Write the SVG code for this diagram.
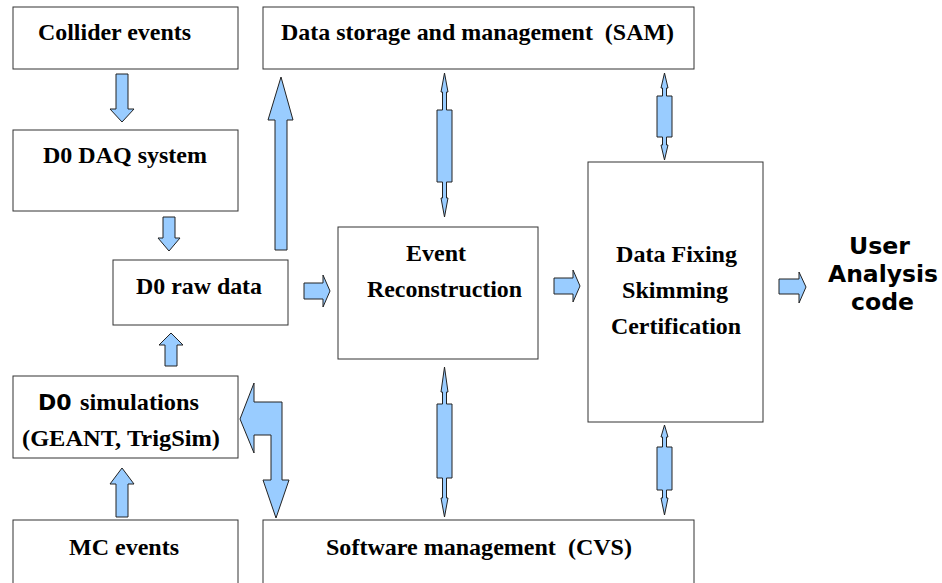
<svg xmlns="http://www.w3.org/2000/svg" width="942" height="583" viewBox="0 0 942 583">
<style>
.box{fill:#fff;stroke:#333;stroke-width:1}
.t{font-family:"Liberation Serif","Times New Roman",serif;font-weight:bold;font-size:24px;fill:#000;text-anchor:middle}
.s{font-family:"DejaVu Sans",sans-serif;font-weight:bold;font-size:23.5px;fill:#000;text-anchor:middle}
.a{fill:#99ccff;stroke:#222;stroke-width:1;stroke-linejoin:miter}
</style>
<rect width="942" height="583" fill="#fff"/>
<g id="collider"><rect class="box" x="13" y="7" width="225" height="62"/><text class="t" x="114.5" y="40" textLength="153" lengthAdjust="spacingAndGlyphs">Collider events</text></g>
<g id="sam"><rect class="box" x="263" y="7" width="431" height="62"/><text class="t" x="477.5" y="40" textLength="393" lengthAdjust="spacingAndGlyphs" xml:space="preserve">Data storage and management  (SAM)</text></g>
<g id="daq"><rect class="box" x="13" y="130" width="225" height="81"/><text class="t" x="125" y="163" textLength="164" lengthAdjust="spacingAndGlyphs">D0 DAQ system</text></g>
<g id="raw"><rect class="box" x="113" y="260" width="175" height="65"/><text class="t" x="199" y="294" textLength="126" lengthAdjust="spacingAndGlyphs">D0 raw data</text></g>
<g id="reco"><rect class="box" x="338" y="227" width="200" height="132"/><text class="t" x="436" y="261" textLength="60" lengthAdjust="spacingAndGlyphs">Event</text><text class="t" x="444.5" y="297" textLength="155" lengthAdjust="spacingAndGlyphs">Reconstruction</text></g>
<g id="fix"><rect class="box" x="588" y="162" width="175" height="260"/><text class="t" x="676.5" y="262" textLength="121" lengthAdjust="spacingAndGlyphs">Data Fixing</text><text class="t" x="675" y="298" textLength="106" lengthAdjust="spacingAndGlyphs">Skimming</text><text class="t" x="676" y="334" textLength="130" lengthAdjust="spacingAndGlyphs">Certification</text></g>
<g id="user"><text class="s" x="879.5" y="254" textLength="61" lengthAdjust="spacingAndGlyphs">User</text><text class="s" x="883" y="282" textLength="110" lengthAdjust="spacingAndGlyphs">Analysis</text><text class="s" x="882.5" y="310" textLength="63" lengthAdjust="spacingAndGlyphs">code</text></g>
<g id="sim"><rect class="box" x="13" y="376" width="225" height="82"/><text x="38" y="410" style="font-family:'DejaVu Sans',sans-serif;font-weight:bold;font-size:22px">D0</text><text x="139.5" y="410" class="t" textLength="119" lengthAdjust="spacingAndGlyphs">simulations</text><text class="t" x="121" y="446" textLength="198" lengthAdjust="spacingAndGlyphs">(GEANT, TrigSim)</text></g>
<g id="mc"><rect class="box" x="13" y="520" width="225" height="70"/><text class="t" x="124" y="555" textLength="110" lengthAdjust="spacingAndGlyphs">MC events</text></g>
<g id="cvs"><rect class="box" x="263" y="520" width="431" height="70"/><text class="t" x="479" y="555" textLength="306" lengthAdjust="spacingAndGlyphs" xml:space="preserve">Software management  (CVS)</text></g>
<g id="connectors">
<polygon class="a" points="116,74 128,74 128,109 134,109 122,122 110,109 116,109"/>
<polygon class="a" points="163,217 175,217 175,238 180,238 169,251 158,238 163,238"/>
<polygon class="a" points="304,283 323,283 323,275 330,291 323,307 323,299 304,299"/>
<polygon class="a" points="554,278 573,278 573,270 580,286 573,302 573,294 554,294"/>
<polygon class="a" points="779,279 799,279 799,272 806,287 799,303 799,294 779,294"/>
<polygon class="a" points="165,366 177,366 177,345 183,345 171,333 159,345 165,345"/>
<polygon class="a" points="116,517 128,517 128,484 134,484 122,468 110,484 116,484"/>
<polygon class="a" points="275,250 287,250 287,120 293,120 281,77 268,120 275,120"/>
<polygon class="a" points="240,419 254,383 254,402 282,402 282,480 289,480 276,518 263,480 271,480 271,435 254,435 254,453"/>
<polygon class="a" points="444.5,73 448,92 446.5,92 446.5,110 452,110 452,182 446.5,182 446.5,198 448,198 444.5,217 441,198 442.5,198 442.5,182 437,182 437,110 442.5,110 442.5,92 441,92"/>
<polygon class="a" points="444.5,367 448,392 446.5,392 446.5,404 452,404 452,478 446.5,478 446.5,498 448,498 444.5,517 441,498 442.5,498 442.5,478 437,478 437,404 442.5,404 442.5,392 441,392"/>
<polygon class="a" points="664.5,73 668,88 666.5,88 666.5,96 672,96 672,137 666.5,137 666.5,145 668,145 664.5,160 661,145 662.5,145 662.5,137 657,137 657,96 662.5,96 662.5,88 661,88"/>
<polygon class="a" points="664.5,425 668,437 666.5,437 666.5,447 672,447 672,490 666.5,490 666.5,498 668,498 664.5,515 661,498 662.5,498 662.5,490 657,490 657,447 662.5,447 662.5,437 661,437"/>
</g>
</svg>
